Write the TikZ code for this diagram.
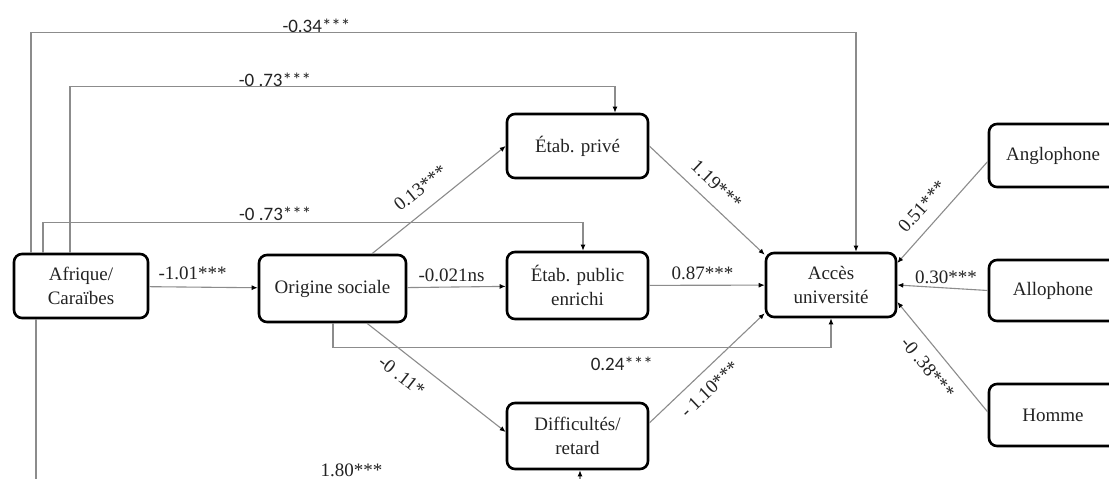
\documentclass[tikz,border=0pt]{standalone}
\usepackage{fontspec}
\setmainfont{Liberation Serif}
\newfontfamily\calib{Carlito}
\usetikzlibrary{arrows.meta}
\definecolor{linec}{RGB}{140,140,140}
\definecolor{txt}{RGB}{35,35,35}
\begin{document}
\begin{tikzpicture}[x=1pt,y=-1pt,
  bx/.style 2 args={draw=black, line width=2.6pt, rounded corners=8pt,
    minimum width=#1, minimum height=#2, align=center, inner sep=0pt,
    text=txt, font=\fontsize{19}{24}\selectfont},
  conn/.style={draw=linec, line width=1.1pt, -{Latex[length=6pt,width=5pt,color=black]}},
  lab/.style={font=\fontsize{19}{22}\selectfont, text=txt, inner sep=1pt},
  slab/.style={font=\calib\fontsize{19}{22}\selectfont, text=txt, inner sep=1pt}]
\useasboundingbox (0,0) rectangle (1109,479);
\fill[white] (0,0) rectangle (1109,479);
\clip (0,0) rectangle (1109,479);

\node[bx={134pt}{64pt}] (afr) at (81,286) {Afrique/\\Caraïbes};
\node[bx={147pt}{67pt}] (ori) at (332.5,288.5) {Origine sociale};
\node[bx={141pt}{64pt}] (priv) at (577.5,146) {Étab. privé};
\node[bx={141pt}{67pt}] (pub) at (577.5,285.5) {Étab. public\\enrichi};
\node[bx={141pt}{66pt}] (diff) at (577.5,436) {Difficultés/\\retard};
\node[bx={130pt}{64pt}] (acc) at (831,285) {Accès\\université};
\node[bx={128pt}{63pt}] (ang) at (1053,155.5) {Anglophone};
\node[bx={128pt}{61pt}] (allo) at (1053,290.5) {Allophone};
\node[bx={128pt}{62pt}] (hom) at (1053,415) {Homme};

% long paths from Afrique/Caraibes
\draw[conn] ([xshift=-50pt]afr.north) -- ++(0,-220)
  -| node[slab,pos=0.173,above=-1pt]{-0.34***} ([xshift=25pt]acc.north);
\draw[conn] ([xshift=-11pt]afr.north) -- ++(0,-166)
  -| node[slab,pos=0.188,above=-1pt]{-0 .73***} ([xshift=37.5pt]priv.north);
\draw[conn] ([xshift=-38pt]afr.north) -- ++(0,-30)
  -| node[slab,pos=0.215,above=1pt]{-0 .73***} ([xshift=5.5pt]pub.north);
\draw[conn] ([xshift=-45pt]afr.south) -- ++(0,169)
  -| node[lab,pos=0.29,above=10pt]{1.80***} ([xshift=2.5pt]diff.south);
\draw[conn] (afr) -- node[lab,pos=0.40,above=6pt]{-1.01***} (ori);

% from Origine sociale
\draw[conn] ([xshift=39.5pt]ori.north) -- node[lab,sloped,pos=0.46,above=13pt]{0.13***} (priv.west);
\draw[conn] (ori) -- node[lab,pos=0.45,above=4pt]{-0.021ns} (pub);
\draw[conn] ([xshift=34.5pt]ori.south) -- node[lab,sloped,pos=0.34,below=12pt]{-0 .11*} ([yshift=4pt]diff.west);
\draw[conn] ([xshift=0.5pt]ori.south) -- ++(0,24)
  -| node[slab,pos=0.29,below=8pt]{0.24***} (acc.south);

% into Acces universite
\draw[conn] (priv.east) -- node[lab,sloped,pos=0.475,above=10pt]{1.19***} ([yshift=-3pt]acc.north west);
\draw[conn] (pub) -- node[lab,pos=0.46,above=4pt]{0.87***} (acc);
\draw[conn] ([yshift=13pt]diff.east) -- node[lab,sloped,pos=0.42,below=9pt]{- 1.10***} ([yshift=5pt]acc.south west);
\draw[conn] ([yshift=-6pt]ang.west) -- node[lab,sloped,pos=0.57,above=11pt]{0.51***} ([yshift=22pt]acc.east);
\draw[conn] (allo.west) -- node[lab,pos=0.46,above=3pt]{0.30***} (acc.east);
\draw[conn] ([yshift=3pt]hom.west) -- node[lab,sloped,pos=0.51,below=10pt]{-0 .38***} ([yshift=-17pt]acc.east);
\end{tikzpicture}
\end{document}
